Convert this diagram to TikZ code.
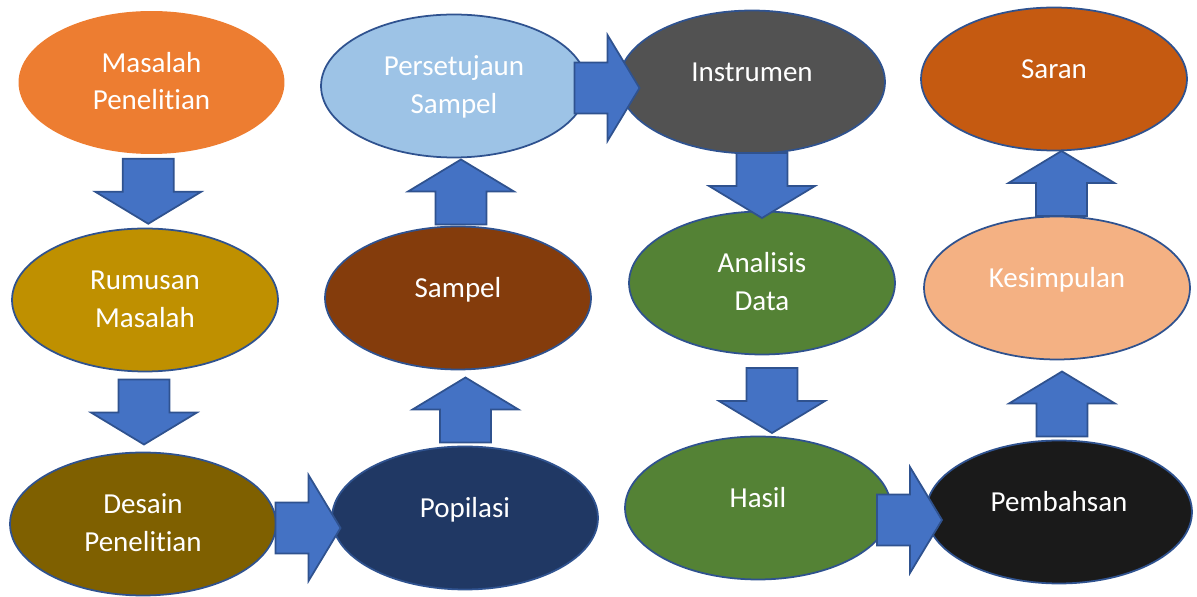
\documentclass[tikz,border=0pt]{standalone}
\usepackage{fontspec}
\setmainfont{Carlito}[Ligatures=NoCommon]
\usetikzlibrary{shapes.geometric, calc}

\definecolor{arrowblue}{HTML}{4472C4}
\definecolor{edgeblue}{HTML}{2F528F}
\definecolor{cOrange}{HTML}{ED7D31}
\definecolor{cGold}{HTML}{BF9000}
\definecolor{cOlive}{HTML}{7F6000}
\definecolor{cNavy}{HTML}{203864}
\definecolor{cBrown}{HTML}{843C0C}
\definecolor{cSky}{HTML}{9DC3E6}
\definecolor{cGray}{HTML}{525252}
\definecolor{cGreen}{HTML}{548235}
\definecolor{cBlack}{HTML}{1A1A1A}
\definecolor{cPeach}{HTML}{F4B183}
\definecolor{cRust}{HTML}{C55A11}

\tikzset{
  bubble/.style={ellipse, minimum width=5.32cm, minimum height=2.86cm,
    inner sep=0pt, outer sep=0pt, draw=edgeblue, line width=1pt,
    text=white, align=center, font=\fontsize{16.5}{21.5}\selectfont},
  oneline/.style={text height=0.3cm, text depth=0.3cm},
  twoline/.style={text height=1.2cm, text depth=0.1cm},
  pics/blockarrow/.style={code={
    \draw[draw=edgeblue, fill=arrowblue, line width=1pt]
      (-32.5,-25.5) -- (0.5,-25.5) -- (0.5,-53) -- (32.5,0)
      -- (0.5,53) -- (0.5,25.5) -- (-32.5,25.5) -- cycle;
  }}
}

\begin{document}
\begin{tikzpicture}[x=0.02cm, y=-0.02cm]
  \useasboundingbox (0,0) rectangle (1197,597);

  % First column: going down
  \node[bubble, twoline, fill=cOrange, draw=none] (masalah) at (151.5,82.5) {Masalah\\Penelitian};
  \node[bubble, twoline, fill=cGold] (rumusan) at (145,300) {Rumusan\\Masalah};
  \node[bubble, twoline, fill=cOlive] (desain) at (143,524) {Desain\\Penelitian};

  % Second column: going up
  \node[bubble, oneline, fill=cNavy] (populasi) at (465,518) {Popilasi};
  \node[bubble, oneline, fill=cBrown] (sampel) at (458,298) {Sampel};
  \node[bubble, twoline, fill=cSky] (persetujuan) at (454,86) {Persetujaun\\Sampel};

  % Third column: going down
  \node[bubble, oneline, fill=cGray] (instrumen) at (752,82) {Instrumen};
  \node[bubble, twoline, fill=cGreen] (analisis) at (762,283) {Analisis\\Data};
  \node[bubble, oneline, fill=cGreen] (hasil) at (758,508) {Hasil};

  % Fourth column: going up
  \node[bubble, oneline, fill=cBlack] (pembahasan) at (1059,512) {Pembahsan};
  \node[bubble, oneline, fill=cPeach] (kesimpulan) at (1057,288) {Kesimpulan};
  \node[bubble, oneline, fill=cRust] (saran) at (1054,79) {Saran};

  % Block arrows between the steps
  \pic[rotate=-90] at ($(masalah.south)!.5!(rumusan.north)$) {blockarrow};
  \pic[rotate=-90] at ($(rumusan.south)!.5!(desain.north)$) {blockarrow};
  \pic at ($(desain.east)!.5!(populasi.west)+(4,7)$) {blockarrow};
  \pic[rotate=90] at ($(populasi.north)!.5!(sampel.south)+(4,2)$) {blockarrow};
  \pic[rotate=90] at ($(sampel.north)!.5!(persetujuan.south)+(5,0)$) {blockarrow};
  \pic at ($(persetujuan.east)!.5!(instrumen.west)+(4,4)$) {blockarrow};
  \pic[rotate=-90] at ($(instrumen.south)!.5!(analisis.north)+(5,3)$) {blockarrow};
  \pic[rotate=-90] at ($(analisis.south)!.5!(hasil.north)+(12,5)$) {blockarrow};
  \pic at ($(hasil.east)!.5!(pembahasan.west)+(1,10)$) {blockarrow};
  \pic[rotate=90] at ($(pembahasan.north)!.5!(kesimpulan.south)+(4,4)$) {blockarrow};
  \pic[rotate=90] at ($(kesimpulan.north)!.5!(saran.south)+(6,0)$) {blockarrow};
\end{tikzpicture}
\end{document}
